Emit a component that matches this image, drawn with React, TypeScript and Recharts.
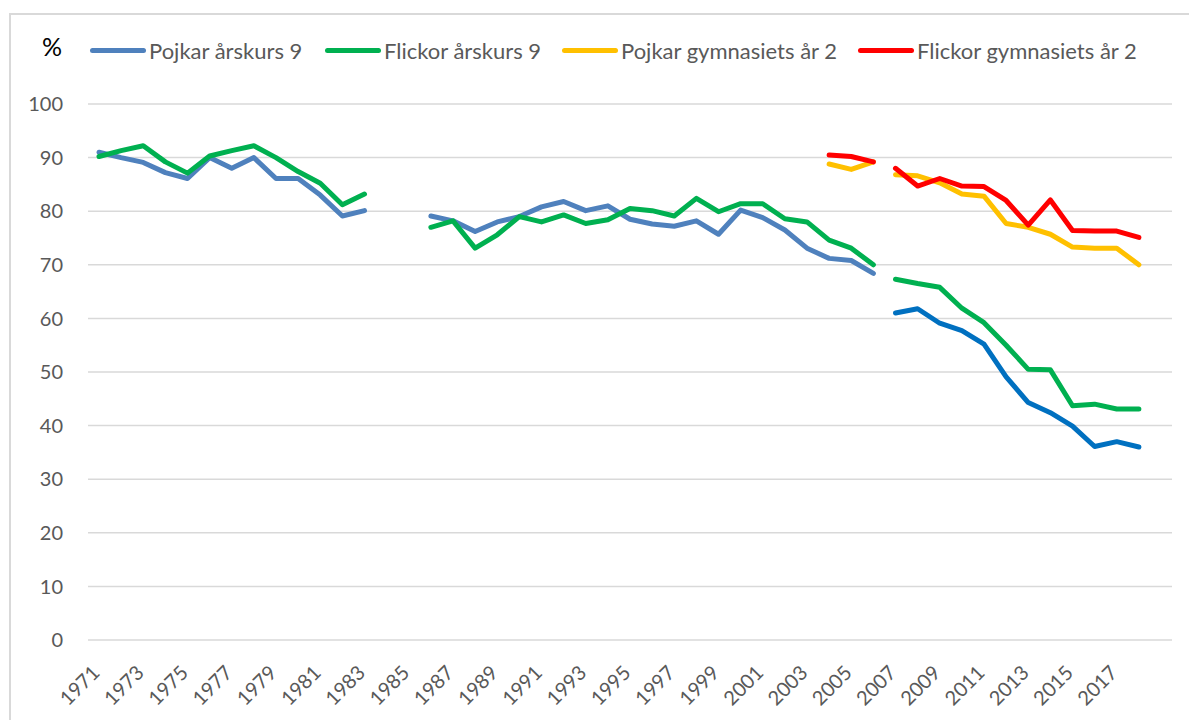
import { CartesianGrid, Line, LineChart, XAxis, YAxis } from "recharts"

// last category is left blank (empty slot after 2018 like the original)
const years = [
  "1971", "1972", "1973", "1974", "1975", "1976", "1977", "1978", "1979", "1980",
  "1981", "1982", "1983", "1984", "1985", "1986", "1987", "1988", "1989", "1990",
  "1991", "1992", "1993", "1994", "1995", "1996", "1997", "1998", "1999", "2000",
  "2001", "2002", "2003", "2004", "2005", "2006", "2007", "2008", "2009", "2010",
  "2011", "2012", "2013", "2014", "2015", "2016", "2017", "2018", "",
]

const pojkar9Old = [
  91, 90, 89.1, 87.2, 86.1, 90, 88, 90, 86.1, 86.1,
  83, 79.1, 80.1, null, null, 79.1, 78.2, 76.2, 78, 79,
  80.8, 81.8, 80.1, 81, 78.5, 77.6, 77.2, 78.2, 75.7, 80.2,
  78.8, 76.5, 73.1, 71.2, 70.8, 68.4, null, null, null, null,
  null, null, null, null, null, null, null, null, null,
]
const flickor9Old = [
  90.2, 91.3, 92.2, 89.2, 87.1, 90.3, 91.3, 92.2, 90, 87.4,
  85.2, 81.2, 83.2, null, null, 77, 78.2, 73.1, 75.6, 79,
  78, 79.3, 77.7, 78.4, 80.5, 80.1, 79.1, 82.4, 79.9, 81.4,
  81.4, 78.6, 78, 74.6, 73.1, 70, null, null, null, null,
  null, null, null, null, null, null, null, null, null,
]
const pojkarGymOld = [
  null, null, null, null, null, null, null, null, null, null,
  null, null, null, null, null, null, null, null, null, null,
  null, null, null, null, null, null, null, null, null, null,
  null, null, null, 88.8, 87.8, 89.2, null, null, null, null,
  null, null, null, null, null, null, null, null, null,
]
const flickorGymOld = [
  null, null, null, null, null, null, null, null, null, null,
  null, null, null, null, null, null, null, null, null, null,
  null, null, null, null, null, null, null, null, null, null,
  null, null, null, 90.5, 90.2, 89.2, null, null, null, null,
  null, null, null, null, null, null, null, null, null,
]

// new survey from 2007
const newYears = ["2007", "2008", "2009", "2010", "2011", "2012", "2013", "2014", "2015", "2016", "2017", "2018"]
const pojkar9New = [61, 61.8, 59.1, 57.7, 55.2, 49.1, 44.3, 42.4, 39.9, 36.1, 37, 36]
const flickor9New = [67.3, 66.5, 65.8, 61.9, 59.2, 55, 50.5, 50.4, 43.7, 44, 43.1, 43.1]
const pojkarGymNew = [86.8, 86.6, 85.3, 83.2, 82.8, 77.7, 77, 75.7, 73.3, 73.1, 73.1, 70]
const flickorGymNew = [88, 84.7, 86.1, 84.7, 84.6, 82, 77.4, 82.1, 76.4, 76.3, 76.3, 75.1]

const yTicks = [0, 10, 20, 30, 40, 50, 60, 70, 80, 90, 100]

const legendItems = [
  { name: "Pojkar årskurs 9", color: "#4F81BD", left: 82 },
  { name: "Flickor årskurs 9", color: "#00B050", left: 317 },
  { name: "Pojkar gymnasiets år 2", color: "#FFC000", left: 554 },
  { name: "Flickor gymnasiets år 2", color: "#FF0000", left: 850 },
]

const data = years.map((year, i) => {
  const j = newYears.indexOf(year)
  return {
    year,
    p9a: pojkar9Old[i],
    f9a: flickor9Old[i],
    pga: pojkarGymOld[i],
    fga: flickorGymOld[i],
    p9b: j >= 0 ? pojkar9New[j] : null,
    f9b: j >= 0 ? flickor9New[j] : null,
    pgb: j >= 0 ? pojkarGymNew[j] : null,
    fgb: j >= 0 ? flickorGymNew[j] : null,
  }
})

const font = "Lato, 'Open Sans', sans-serif"

function YearTick({ x, y, payload }: any) {
  const tx = x + 2
  const ty = y + 34
  return (
    <text
      x={tx}
      y={ty}
      transform={`rotate(-45 ${tx} ${ty})`}
      textAnchor="end"
      fill="#595959"
      fontSize={20}
      fontFamily={font}
    >
      {payload.value}
    </text>
  )
}

function ChartLegend() {
  return (
    <div style={{ position: "absolute", left: 0, top: 29, width: 1189, height: 30 }}>
      {legendItems.map((it) => (
        <div
          key={it.name}
          style={{
            position: "absolute",
            left: it.left,
            top: 0,
            display: "flex",
            alignItems: "center",
            whiteSpace: "nowrap",
          }}
        >
          <span
            style={{
              display: "inline-block",
              width: 56,
              height: 5,
              borderRadius: 3,
              background: it.color,
              marginRight: 3,
            }}
          />
          <span style={{ fontSize: 22, color: "#595959", fontFamily: font }}>{it.name}</span>
        </div>
      ))}
    </div>
  )
}

const lineProps = {
  type: "linear" as const,
  strokeWidth: 5,
  dot: false,
  activeDot: false,
  isAnimationActive: false,
  strokeLinecap: "round" as const,
  strokeLinejoin: "round" as const,
  legendType: "none" as const,
}

export default function App() {
  return (
    <div style={{ position: "relative", width: 1189, height: 712, overflow: "hidden", background: "#fff" }}>
      <div
        style={{
          position: "absolute",
          left: 1,
          top: 5,
          width: 1400,
          height: 900,
          border: "2px solid #d9d9d9",
        }}
      />
      <div
        style={{
          position: "absolute",
          left: 34,
          top: 23,
          fontSize: 25,
          fontFamily: font,
          color: "#000",
        }}
      >
        %
      </div>
      <ChartLegend />
      <div style={{ position: "absolute", left: 0, top: 0 }}>
        <LineChart width={1189} height={712} data={data} margin={{ top: 96, right: 25, left: 0, bottom: 0 }}>
          <CartesianGrid vertical={false} stroke="#d9d9d9" strokeWidth={1.5} />
          <XAxis
            dataKey="year"
            interval={1}
            axisLine={false}
            tickLine={false}
            tickSize={0}
            tickMargin={0}
            height={80}
            padding={{ left: 11, right: 11 }}
            tick={<YearTick />}
          />
          <YAxis
            domain={[0, 100]}
            ticks={yTicks}
            width={80}
            axisLine={false}
            tickLine={false}
            tickSize={0}
            tickMargin={25}
            tick={{ fill: "#595959", fontSize: 20, fontFamily: font }}
          />
          <Line dataKey="p9a" stroke="#4F81BD" {...lineProps} />
          <Line dataKey="f9a" stroke="#00B050" {...lineProps} />
          <Line dataKey="pga" stroke="#FFC000" {...lineProps} />
          <Line dataKey="fga" stroke="#FF0000" {...lineProps} />
          <Line dataKey="p9b" stroke="#0070C0" {...lineProps} />
          <Line dataKey="f9b" stroke="#00B050" {...lineProps} />
          <Line dataKey="pgb" stroke="#FFC000" {...lineProps} />
          <Line dataKey="fgb" stroke="#FF0000" {...lineProps} />
        </LineChart>
      </div>
    </div>
  )
}
